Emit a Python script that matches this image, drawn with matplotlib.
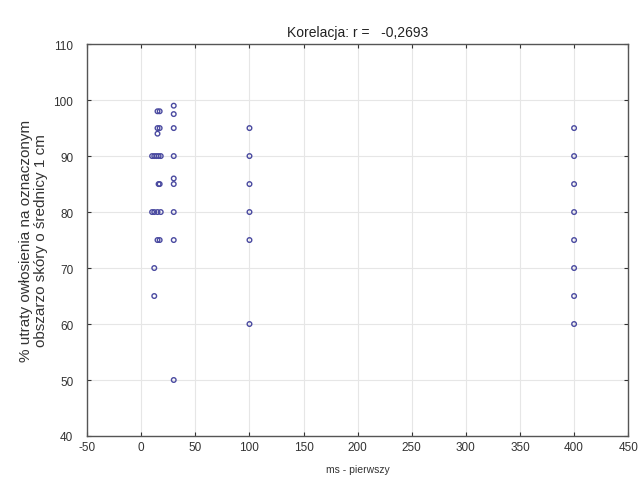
import matplotlib
matplotlib.use("Agg")
import matplotlib.pyplot as plt

plt.rcParams['font.family'] = ['Liberation Sans', 'DejaVu Sans']
plt.rcParams['axes.unicode_minus'] = False

# ms - pierwszy (x) vs % utraty owlosienia (y)
x_vals = [15, 17, 15, 17, 15, 10, 12, 14, 16, 18, 16, 17, 10, 12, 15, 18, 15, 17, 12, 12,
          30, 30, 30, 30, 30, 30, 30, 30, 30,
          100, 100, 100, 100, 100, 100,
          400, 400, 400, 400, 400, 400, 400, 400]
y_vals = [98, 98, 95, 95, 94, 90, 90, 90, 90, 90, 85, 85, 80, 80, 80, 80, 75, 75, 70, 65,
          99, 97.5, 95, 90, 86, 85, 80, 75, 50,
          95, 90, 85, 80, 75, 60,
          95, 90, 85, 80, 75, 70, 65, 60]

x_ticks = list(range(-50, 451, 50))
y_ticks = list(range(40, 111, 10))

fig = plt.figure(figsize=(6.41, 4.85), dpi=100)
ax = fig.add_axes([0.136, 0.099, 0.844, 0.808])

ax.scatter(x_vals, y_vals, s=11, facecolors='none', edgecolors='#4a4aa0',
           linewidths=1.0, zorder=3)

ax.set_xlim(-50, 450)
ax.set_ylim(40, 110)
ax.set_xticks(x_ticks)
ax.set_yticks(y_ticks)
ax.grid(True, color='#e6e6e6', linewidth=0.8)
ax.tick_params(direction='in', length=3, labelsize=8.5, colors='#333333',
               top=True, right=True)
ax.tick_params(axis='y', pad=10)
for s in ax.spines.values():
    s.set_color('#555555')
    s.set_linewidth(1.0)

ax.set_title('Korelacja: r =   -0,2693', fontsize=10, color='#222222', pad=6)
ax.set_xlabel('ms - pierwszy', fontsize=7.5, color='#333333', labelpad=8)
ax.set_ylabel('% utraty owłosienia na oznaczonym\nobszarzo skóry o średnicy 1 cm',
              fontsize=11, color='#333333', labelpad=4, linespacing=1.1)

plt.savefig('out.png', dpi=100)
